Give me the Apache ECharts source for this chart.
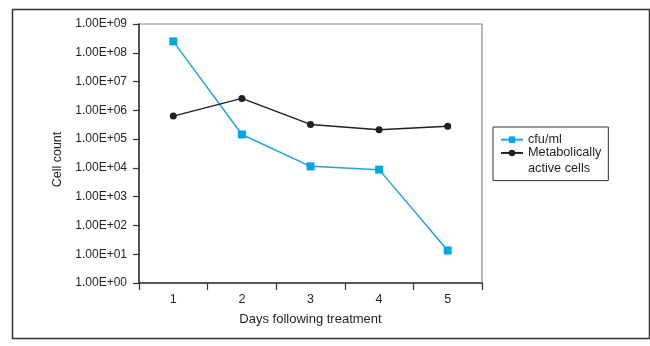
<!DOCTYPE html>
<html>
<head>
<meta charset="utf-8">
<script src="https://cdn.jsdelivr.net/npm/echarts@6/dist/echarts.min.js"></script>
<style>
html,body{margin:0;padding:0;background:#fff;}
#c{width:650px;height:346px;}
</style>
</head>
<body>
<div id="c"></div>
<script>
const days = ['1', '2', '3', '4', '5'];
const cfuPerMl = [2.5e8, 1.45e5, 1.13e4, 8.7e3, 13.5];
const metabolicallyActive = [6.3e5, 2.6e6, 3.25e5, 2.1e5, 2.8e5];
const seriesNames = ['cfu/ml', 'Metabolically active cells'];
const yMin = 1, yMax = 1e9;

const font = '"Liberation Sans", Arial, sans-serif';
const ink = '#231f20';
const chart = echarts.init(document.getElementById('c'), null, {renderer: 'canvas'});

function sci(v) {
  const e = Math.round(Math.log10(v));
  return '1.00E+' + (e < 10 ? '0' : '') + e;
}

chart.setOption({
  animation: false,
  backgroundColor: '#fff',
  textStyle: {fontFamily: font},
  grid: {left: 139, top: 24, right: 168, bottom: 63, show: true, borderColor: '#8a8a8a', borderWidth: 1.2},
  xAxis: {
    type: 'category',
    data: days,
    boundaryGap: true,
    axisLine: {lineStyle: {color: '#333', width: 1.5}},
    axisTick: {show: true, length: 7, alignWithLabel: false, lineStyle: {color: '#333', width: 1.2}},
    axisLabel: {color: ink, fontSize: 12.5, margin: 10, fontFamily: font},
    name: 'Days following treatment',
    nameLocation: 'middle',
    nameGap: 30,
    nameTextStyle: {color: ink, fontSize: 13, fontFamily: font}
  },
  yAxis: {
    type: 'log',
    logBase: 10,
    min: yMin,
    max: yMax,
    interval: 1,
    splitLine: {show: false},
    axisLine: {show: true, lineStyle: {color: '#333', width: 1.5}},
    axisTick: {show: true, length: 6, lineStyle: {color: '#333', width: 1.2}},
    axisLabel: {color: ink, fontSize: 12, margin: 12, formatter: sci, fontFamily: font},
    name: 'Cell count',
    nameLocation: 'middle',
    nameRotate: 90,
    nameGap: 72,
    nameTextStyle: {color: ink, fontSize: 12.5, fontFamily: font, padding: [0, 12, 0, 0]}
  },
  legend: {
    orient: 'vertical',
    left: 493,
    top: 127,
    data: seriesNames,
    backgroundColor: '#fff',
    borderColor: '#333',
    borderWidth: 1,
    padding: [6, 7, 21, 7],
    itemGap: 0,
    itemWidth: 22,
    itemHeight: 8,
    textStyle: {color: ink, fontSize: 12.7, lineHeight: 13.3, fontFamily: font},
    formatter: function (n) { return n === seriesNames[1] ? 'Metabolically' : n; }
  },
  graphic: [
    {type: 'rect', left: 10, top: 7, shape: {width: 637, height: 329}, style: {fill: 'none', stroke: '#333', lineWidth: 1.5}, silent: true, z: -1},
    {type: 'text', left: 528, top: 162, style: {text: 'active cells', fill: ink, font: '12.7px ' + font}, z: 100}
  ],
  series: [
    {
      name: seriesNames[0],
      type: 'line',
      data: cfuPerMl,
      symbol: 'rect',
      symbolSize: 8,
      lineStyle: {color: '#1aa5e0', width: 1.5},
      itemStyle: {color: '#00a5e8'}
    },
    {
      name: seriesNames[1],
      type: 'line',
      data: metabolicallyActive,
      symbol: 'circle',
      symbolSize: 7,
      lineStyle: {color: ink, width: 1.5},
      itemStyle: {color: ink}
    }
  ]
});
</script>
</body>
</html>
